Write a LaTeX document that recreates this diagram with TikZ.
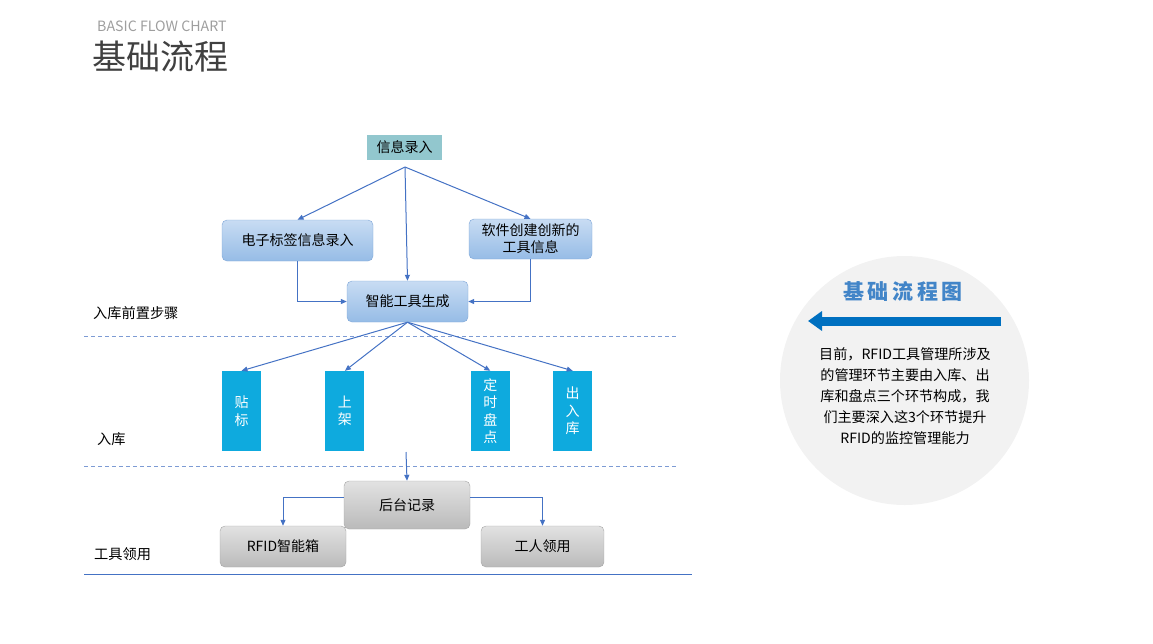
\documentclass[tikz,border=0pt]{standalone}
\usepackage{fontspec}
\setmainfont{Noto Sans CJK SC}
\usetikzlibrary{arrows.meta}
\usetikzlibrary{positioning}
\definecolor{entryteal}{RGB}{146,199,206}
\definecolor{steptop}{RGB}{200,220,243}
\definecolor{stepbottom}{RGB}{150,188,230}
\definecolor{stepedge}{RGB}{125,165,215}
\definecolor{stagecyan}{RGB}{14,170,222}
\definecolor{graytop}{RGB}{226,226,226}
\definecolor{graybottom}{RGB}{186,186,186}
\definecolor{grayedge}{RGB}{165,165,165}
\definecolor{linkblue}{RGB}{68,114,196}
\definecolor{dashblue}{RGB}{125,155,212}
\definecolor{titleblue}{RGB}{66,133,200}
\definecolor{bigarrow}{RGB}{0,112,192}
\tikzstyle{entry} = [rectangle, minimum width=75pt, minimum height=25pt, inner sep=0pt, fill=entryteal, font=\fontsize{14}{16}\selectfont]
\tikzstyle{bluestep} = [rectangle, rounded corners=5pt, inner sep=0pt, align=center, draw=stepedge, top color=steptop, bottom color=stepbottom, font=\fontsize{14}{17}\selectfont]
\tikzstyle{stage} = [rectangle, minimum width=39pt, minimum height=80pt, inner sep=0pt, align=center, fill=stagecyan, text=white, font=\fontsize{14}{17.5}\selectfont]
\tikzstyle{graystep} = [rectangle, rounded corners=5pt, inner sep=0pt, align=center, draw=grayedge, top color=graytop, bottom color=graybottom, font=\fontsize{14}{17}\selectfont]
\tikzstyle{lane} = [anchor=west, inner sep=0pt, font=\fontsize{14.2}{16}\selectfont]
\tikzstyle{arrow} = [line width=1pt, draw=linkblue, -{Triangle[length=6pt,width=5pt]}]
\tikzstyle{divider} = [line width=1pt, draw=dashblue, dash pattern=on 4pt off 3pt]
\begin{document}
\begin{tikzpicture}[x=1pt, y=-1pt]
 \useasboundingbox (0,0) rectangle (1153,643);
 \node (subtitle) [anchor=west, inner sep=0pt, text=black!38, font=\fontsize{14.2}{16}\selectfont] at (97,26) {BASIC FLOW CHART};
 \node (title) [anchor=west, inner sep=0pt, text=black!75, font=\fontsize{34}{38}\selectfont] at (92,57) {基础流程};

 \node (info) [entry] at (404.5,147.5) {信息录入};
 \node (tag) [bluestep, minimum width=151pt, minimum height=41pt] at (297.5,240.5) {电子标签信息录入};
 \node (soft) [bluestep, minimum width=123pt, minimum height=40pt] at (530.5,239) {软件创建创新的\\工具信息};
 \node (gen) [bluestep, minimum width=121pt, minimum height=41pt] at (407.5,301.5) {智能工具生成};
 \coordinate (infoout) at (405,167);

 \node (tiebiao) [stage] at (241.5,411) {贴\\标};
 \node (shangjia) [stage, right=64pt of tiebiao] {上\\架};
 \node (pandian) [stage, right=106pt of shangjia] {定\\时\\盘\\点};
 \node (churuku) [stage, right=43pt of pandian] {出\\入\\库};
 \coordinate (stageout) at (406,452);

 \node (record) [graystep, minimum width=126pt, minimum height=48pt] at (407,505) {后台记录};
 \node (rfid) [graystep, minimum width=126pt, minimum height=41pt] at (283,546.5) {RFID智能箱};
 \node (worker) [graystep, minimum width=123pt, minimum height=41pt] at (542.5,546.5) {工人领用};

 \node (prestep) [lane] at (93,313) {入库前置步骤};
 \node (inbound) [lane] at (97,439) {入库};
 \node (issue) [lane] at (94,554) {工具领用};

 \draw [divider] (84,336) -- (678,336);
 \draw [divider] (84,466) -- (678,466);
 \draw [line width=1pt, draw=linkblue] (84,574) -- (692,574);

 \draw [arrow] (infoout) -- (tag.north);
 \draw [arrow] (infoout) -- (gen.north);
 \draw [arrow] (infoout) -- (soft.north);
 \draw [arrow] (tag.south) |- (gen.west);
 \draw [arrow] (soft.south) |- (gen.east);
 \draw [arrow] (gen.south) -- (tiebiao.north);
 \draw [arrow] (gen.south) -- (shangjia.north);
 \draw [arrow] (gen.south) -- (pandian.north);
 \draw [arrow] (gen.south) -- (churuku.north);
 \draw [arrow] (stageout) -- (record.north);
 \draw [arrow] ([yshift=8pt]record.west) -| (rfid.north);
 \draw [arrow] ([yshift=8pt]record.east) -| (worker.north);

 % summary circle
 \node (summary) [circle, minimum size=249pt, inner sep=0pt, fill=black!5] at (904.5,380.5) {};
 \node (summarytitle) [inner sep=0pt, text=titleblue, font=\fontsize{21}{24}\selectfont\bfseries] at (903,291) {基\,础\,流\,程\,图};
 \coordinate (pointtail) at (1001,321);
 \coordinate (pointhead) at (808,321);
 \draw [line width=9pt, draw=bigarrow, -{Triangle[length=14pt,width=19pt]}] (pointtail) -- (pointhead);
 \node (summarytext) [inner sep=0pt, align=center, font=\fontsize{14.1}{21}\selectfont] at (905,396) {目前，RFID工具管理所涉及\\的管理环节主要由入库、出\\库和盘点三个环节构成，我\\们主要深入这3个环节提升\\RFID的监控管理能力};
\end{tikzpicture}
\end{document}
